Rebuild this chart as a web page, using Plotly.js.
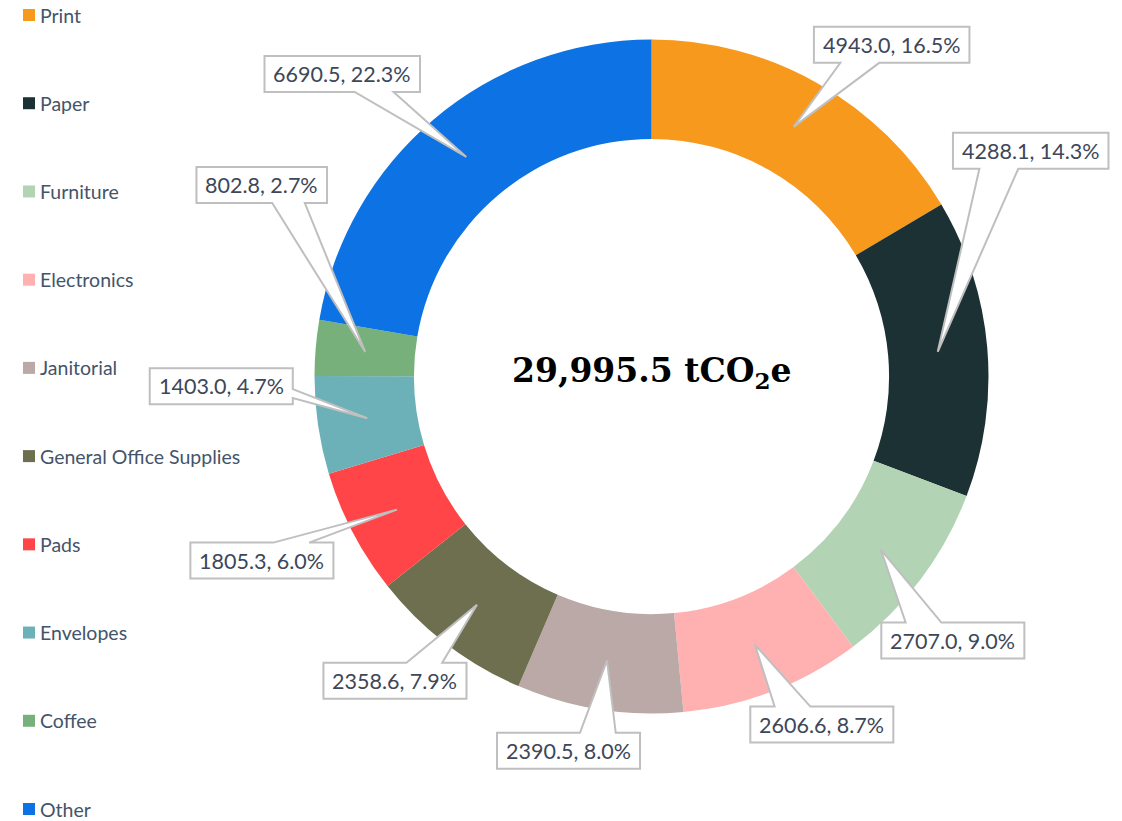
<!DOCTYPE html>
<html>
<head>
<meta charset="utf-8">
<script src="https://cdn.plot.ly/plotly-3.0.1.min.js"></script>
<style>
html,body{margin:0;padding:0;background:#fff;}
#chart{width:1122px;height:821px;}
</style>
</head>
<body>
<div id="chart"></div>
<script>
// ---- data ----
const categories = ["Print","Paper","Furniture","Electronics","Janitorial","General Office Supplies","Pads","Envelopes","Coffee","Other"];
const values = [4943.0, 4288.1, 2707.0, 2606.6, 2390.5, 2358.6, 1805.3, 1403.0, 802.8, 6690.5];
const colors = ["#F7991D","#1B3134","#B2D3B4","#FFB1B1","#BAA9A6","#6E6F4F","#FF4547","#6CB1B8","#77B07A","#0D72E3"];
const centerTitle = "29,995.5 tCO<sub>2</sub>e";

// ---- layout (positions/styles) ----
const W = 1122, H = 821;
const CX = 651.5, CY = 376.5, R = 337, HOLE = 0.705;
// label box centre offsets from the pointer tip (pixels)
const labelOffsets = [[98,-82],[93,-201],[72,91],[67,80],[-38.5,90.5],[-82,76],[-135,51],[-146,-32],[-103.5,-167],[-124,-83]];
const labelFont = {family:"Lato, 'Open Sans', sans-serif", size:21.5, color:"#3D4759"};
const legendFont = {family:"Lato, 'Open Sans', sans-serif", size:19.5, color:"#44546A"};
const BOX_H = 36, BOX_PAD = 9;

const px = x => x / W;
const py = y => 1 - y / H;

const total = values.reduce((a,b)=>a+b,0);
const canvas = document.createElement('canvas');
const ctx = canvas.getContext('2d');
ctx.font = labelFont.size + "px Lato";

const shapes = [];
const annotations = [];

// callout labels
let cum = 0;
const rm = R * (1 + HOLE) / 2;
values.forEach((v, i) => {
  const mid = (cum + v / 2) / total * 2 * Math.PI;
  cum += v;
  const tx = CX + rm * Math.sin(mid), ty = CY - rm * Math.cos(mid);
  const text = v.toFixed(1) + ", " + (v / total * 100).toFixed(1) + "%";
  const tw = ctx.measureText(text).width;
  const w = tw + 2 * BOX_PAD, h = BOX_H;
  const bx = tx + labelOffsets[i][0], by = ty + labelOffsets[i][1];
  const L = bx - w / 2, Rr = bx + w / 2, T = by - h / 2, B = by + h / 2;
  const dx = tx - bx, dy = ty - by;
  let pts;
  if (Math.abs(dy) * w > Math.abs(dx) * h) {
    const a = dx < 0 ? L + 0.17 * w : L + 0.58 * w;
    const b = dx < 0 ? L + 0.42 * w : L + 0.83 * w;
    if (dy > 0) pts = [[L,T],[Rr,T],[Rr,B],[b,B],[tx,ty],[a,B],[L,B]];
    else pts = [[L,T],[a,T],[tx,ty],[b,T],[Rr,T],[Rr,B],[L,B]];
  } else {
    const a = dy < 0 ? T + 0.17 * h : T + 0.58 * h;
    const b = dy < 0 ? T + 0.42 * h : T + 0.83 * h;
    if (dx > 0) pts = [[L,T],[Rr,T],[Rr,a],[tx,ty],[Rr,b],[Rr,B],[L,B]];
    else pts = [[L,T],[Rr,T],[Rr,B],[L,B],[L,b],[tx,ty],[L,a]];
  }
  const path = "M " + pts.map(p => px(p[0]).toFixed(5) + "," + py(p[1]).toFixed(5)).join(" L ") + " Z";
  shapes.push({type:"path", xref:"paper", yref:"paper", path:path, fillcolor:"#FFFFFF",
               line:{color:"#BFBFBF", width:2}, layer:"above"});
  annotations.push({xref:"paper", yref:"paper", x:px(bx), y:py(by), xanchor:"center", yanchor:"middle",
                    text:text, showarrow:false, font:labelFont});
});

// custom legend
const LEG_TOP = 15, LEG_BOTTOM = 809, LEG_STEP = (LEG_BOTTOM - LEG_TOP) / (categories.length - 1);
categories.forEach((c, i) => {
  const yc = LEG_TOP + i * LEG_STEP;
  shapes.push({type:"rect", xref:"paper", yref:"paper", x0:px(23), x1:px(35), y0:py(yc - 6), y1:py(yc + 6),
               fillcolor:colors[i], line:{width:0}});
  annotations.push({xref:"paper", yref:"paper", x:px(39), y:py(yc), xanchor:"left", yanchor:"middle",
                    text:c, showarrow:false, font:legendFont, borderpad:0});
});

// centre text
annotations.push({xref:"paper", yref:"paper", x:px(CX), y:py(CY - 4), xanchor:"center", yanchor:"middle",
                  text:"<b>" + centerTitle + "</b>", showarrow:false,
                  font:{family:"'DejaVu Serif', serif", size:33, color:"#000000"}});

const trace = {
  type:"pie", labels:categories, values:values, hole:HOLE, sort:false,
  direction:"clockwise", rotation:0, textinfo:"none", hoverinfo:"none",
  marker:{colors:colors, line:{width:0}},
  domain:{x:[(CX - R) / W, (CX + R) / W], y:[1 - (CY + R) / H, 1 - (CY - R) / H]},
  showlegend:false
};

const layout = {
  width:W, height:H, margin:{l:0, r:0, t:0, b:0},
  paper_bgcolor:"#FFFFFF", plot_bgcolor:"#FFFFFF",
  showlegend:false, shapes:shapes, annotations:annotations
};

Plotly.newPlot("chart", [trace], layout, {displayModeBar:false, staticPlot:true});
</script>
</body>
</html>
